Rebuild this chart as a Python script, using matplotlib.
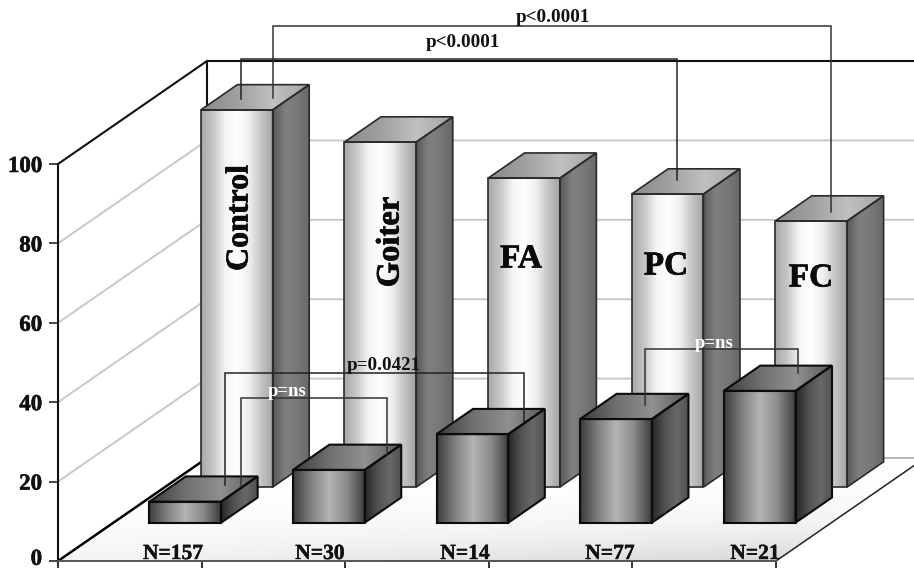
import numpy as np
import matplotlib
matplotlib.use('Agg')
import matplotlib.pyplot as plt
import matplotlib.patheffects as pe
from matplotlib.colors import LinearSegmentedColormap
from matplotlib.patches import Polygon
from matplotlib.transforms import ScaledTranslation

groups = ['Control', 'Goiter', 'FA', 'PC', 'FC']
back_values = [95, 86.9, 77.8, 73.8, 67]
front_values = [5.3, 13.3, 22.3, 26.1, 33.2]
n_labels = ['N=157', 'N=30', 'N=14', 'N=77', 'N=21']
y_ticks = [0, 20, 40, 60, 80, 100]

# size of one category and one value unit, in pixels
CAT_PX = 143.6
VAL_PX = 3.97
X0, Y0 = 58, 561
# how far the full floor depth shifts things, in axis units
DX = 149 / CAT_PX
DY = 103 / VAL_PX

plt.rcParams['font.family'] = ['Liberation Serif', 'DejaVu Serif']
plt.rcParams['font.weight'] = 'bold'

fig = plt.figure(figsize=(9.14, 5.68), dpi=100)
ax = fig.add_axes([X0 / 914, (568 - Y0) / 568, (914 - X0) / 914, 100 * VAL_PX / 568])
xlim = (0, (914 - X0) / CAT_PX)


def pt(cat, val, depth=0):
    return cat + depth * DX, val + depth * DY


def px(x, y):
    return (x - X0) / CAT_PX, (Y0 - y) / VAL_PX


def cmap(*cols):
    return LinearSegmentedColormap.from_list('c', list(cols))


def heavy(width, col):
    # the reference text is a bit fatter than the plain bold face
    return [pe.withStroke(linewidth=width, foreground=col)]


def shade(corners, colors, zorder, img=None):
    # fill a polygon with a left to right gradient
    poly = Polygon(corners, closed=True, facecolor='none', edgecolor='none',
                   transform=ax.transData, clip_on=False)
    ax.add_patch(poly)
    xs = [c[0] for c in corners]
    ys = [c[1] for c in corners]
    data = np.linspace(0, 1, 128).reshape(1, -1) if img is None else img
    im = ax.imshow(data, cmap=cmap(*colors), aspect='auto', vmin=0, vmax=1,
                   extent=(min(xs), max(xs), min(ys), max(ys)),
                   origin='lower', zorder=zorder, interpolation='bilinear')
    im.set_clip_box(fig.bbox)
    im.set_clip_path(poly)


def draw_bar(cat, val, depth, front, top, side, edge, lw, zorder):
    d = 0.245
    x0, x1 = cat + 0.25, cat + 0.75
    a = pt(x0, 0, depth)
    b = pt(x1, 0, depth)
    c = pt(x1, val, depth)
    e = pt(x0, val, depth)
    f = pt(x0, val, depth + d)
    g = pt(x1, val, depth + d)
    h = pt(x1, 0, depth + d)
    shade([a, b, c, e], front, zorder)
    shade([e, c, g, f], top, zorder)
    shade([b, h, g, c], side, zorder)
    for poly in ([a, b, c, e], [e, c, g, f], [b, h, g, c]):
        ax.add_patch(Polygon(poly, closed=True, fill=False, edgecolor=edge, linewidth=lw,
                             joinstyle='miter', zorder=zorder + 0.1, clip_on=False))


# floor
floor = [pt(0, 0), pt(5, 0), pt(5, 0, 1), pt(0, 0, 1)]
xx, yy = np.meshgrid(np.linspace(0, 1, 128), np.linspace(0, 1, 64))
floor_img = np.clip((1 - yy) ** 3 * (0.25 + 0.75 * xx) + (1 - yy) * xx * 0.15, 0, 1)
shade(floor, ['#ffffff', '#d8d8d8'], 1, img=floor_img)

# walls and grid
for v in y_ticks:
    col = '#c8c8c8'
    if v in (0, 100):
        continue
    xs, ys = zip(pt(0, v), pt(0, v, 1), pt(xlim[1], v, 1))
    ax.plot(xs, ys, color=col, lw=1.4, clip_on=False, zorder=2)
xs, ys = zip(pt(0, 0, 1), pt(xlim[1], 0, 1))
ax.plot(xs, ys, color='#b4b4b4', lw=1.4, clip_on=False, zorder=2)
xs, ys = zip(pt(0, 100), pt(0, 100, 1), pt(xlim[1], 100, 1))
ax.plot(xs, ys, color='#111111', lw=1.5, clip_on=False, zorder=2.5)
xs, ys = zip(pt(0, 100, 1), pt(0, 0, 1))
ax.plot(xs, ys, color='#111111', lw=1.5, clip_on=False, zorder=2.5)
xs, ys = zip(pt(0, 0), pt(0, 0, 1))
ax.plot(xs, ys, color='#000000', lw=1.8, clip_on=False, zorder=2.5)
xs, ys = zip(pt(5, 0), pt(5, 0, 1))
ax.plot(xs, ys, color='#222222', lw=1.1, clip_on=False, zorder=2.5)

# back row then front row
for i, v in enumerate(back_values):
    draw_bar(i, v, 0.718,
             ['#a8a8a8', '#c6c6c6', '#f4f4f4', '#ffffff', '#f0f0f0', '#c6c6c6', '#a4a4a4'],
             ['#888888', '#a0a0a0', '#c0c0c0', '#a4a4a4'],
             ['#585858', '#808080', '#787878', '#686868'],
             '#2a2a2a', 1.2, 3 + i * 0.2)
for i, v in enumerate(front_values):
    draw_bar(i, v, 0.372,
             ['#3c3c3c', '#808080', '#b4b4b4', '#8c8c8c', '#3c3c3c'],
             ['#3c3c3c', '#707070', '#909090', '#585858'],
             ['#262626', '#505050', '#686868', '#505050'],
             '#0c0c0c', 1.5, 5 + i * 0.2)

# group names on the tall bars
name_pos = [(240, 218, 90, 23), (390, 242, 90, 23.5), (521, 259, 0, 24), (666, 266, 0, 24), (811, 278, 0, 24)]
for name, (x, y, rot, size) in zip(groups, name_pos):
    tx, ty = px(x, y)
    ax.text(tx, ty, name, rotation=rot, ha='center', va='center', fontsize=size,
            color='#0a0a0a', zorder=8, path_effects=heavy(0.5, '#0a0a0a'))

n_x = [173, 320, 465, 610, 755]
for x, label in zip(n_x, n_labels):
    tx, ty = px(x, 554)
    ax.text(tx, ty, label, ha='center', va='center', fontsize=15.5, color='#111111', zorder=8,
            path_effects=heavy(0.3, '#111111'))

# significance brackets
brackets = [
    (273, 98, 26, 831, 212, '#333333'),
    (241, 99, 59, 677, 180, '#222222'),
    (225, 485, 373, 524, 422, '#222222'),
    (241, 485, 398, 387, 455, '#333333'),
    (645, 405, 349, 798, 373, '#333333'),
]
for x0, y0, level, x1, y1, col in brackets:
    xs, ys = zip(px(x0, y0), px(x0, level), px(x1, level), px(x1, y1))
    ax.plot(xs, ys, color=col, lw=1.1, clip_on=False, zorder=7,
            solid_joinstyle='miter')

p_texts = [
    ('p<0.0001', 553, 18, 13.8, '#111111'),
    ('p<0.0001', 463, 43, 13.8, '#111111'),
    ('p=0.0421', 384, 366, 13.7, '#111111'),
    ('p=ns', 287, 392, 13.5, '#ffffff'),
    ('p=ns', 714, 344, 13.5, '#ffffff'),
]
for s, x, y, size, col in p_texts:
    tx, ty = px(x, y)
    ax.text(tx, ty, s, ha='center', va='center', fontsize=size, color=col, zorder=9)

ax.set_xlim(*xlim)
ax.set_ylim(0, 100)
ax.patch.set_visible(False)
for name in ('top', 'right'):
    ax.spines[name].set_visible(False)
ax.spines['left'].set_color('#111111')
ax.spines['left'].set_linewidth(1.5)
ax.spines['bottom'].set_color('#555555')
ax.spines['bottom'].set_linewidth(1.4)
ax.spines['bottom'].set_bounds(0, 5)
ax.spines['left'].set_zorder(2.6)
ax.spines['bottom'].set_zorder(2.6)
ax.set_xticks(range(6))
ax.set_xticklabels([])
ax.set_yticks(y_ticks)
ax.set_yticklabels([str(v) for v in y_ticks], fontsize=16.5, color='#111111')
ax.tick_params(axis='y', length=6.5, width=1.4, color='#444444', pad=5)
ax.tick_params(axis='x', length=5, width=1.4, color='#333333')
for lab in ax.get_yticklabels():
    lab.set_path_effects(heavy(0.4, '#111111'))
# the 0 would run off the bottom edge otherwise
zero = ax.get_yticklabels()[0]
zero.set_transform(zero.get_transform() + ScaledTranslation(0, 3 / 72, fig.dpi_scale_trans))

fig.savefig('out.png', dpi=100)
